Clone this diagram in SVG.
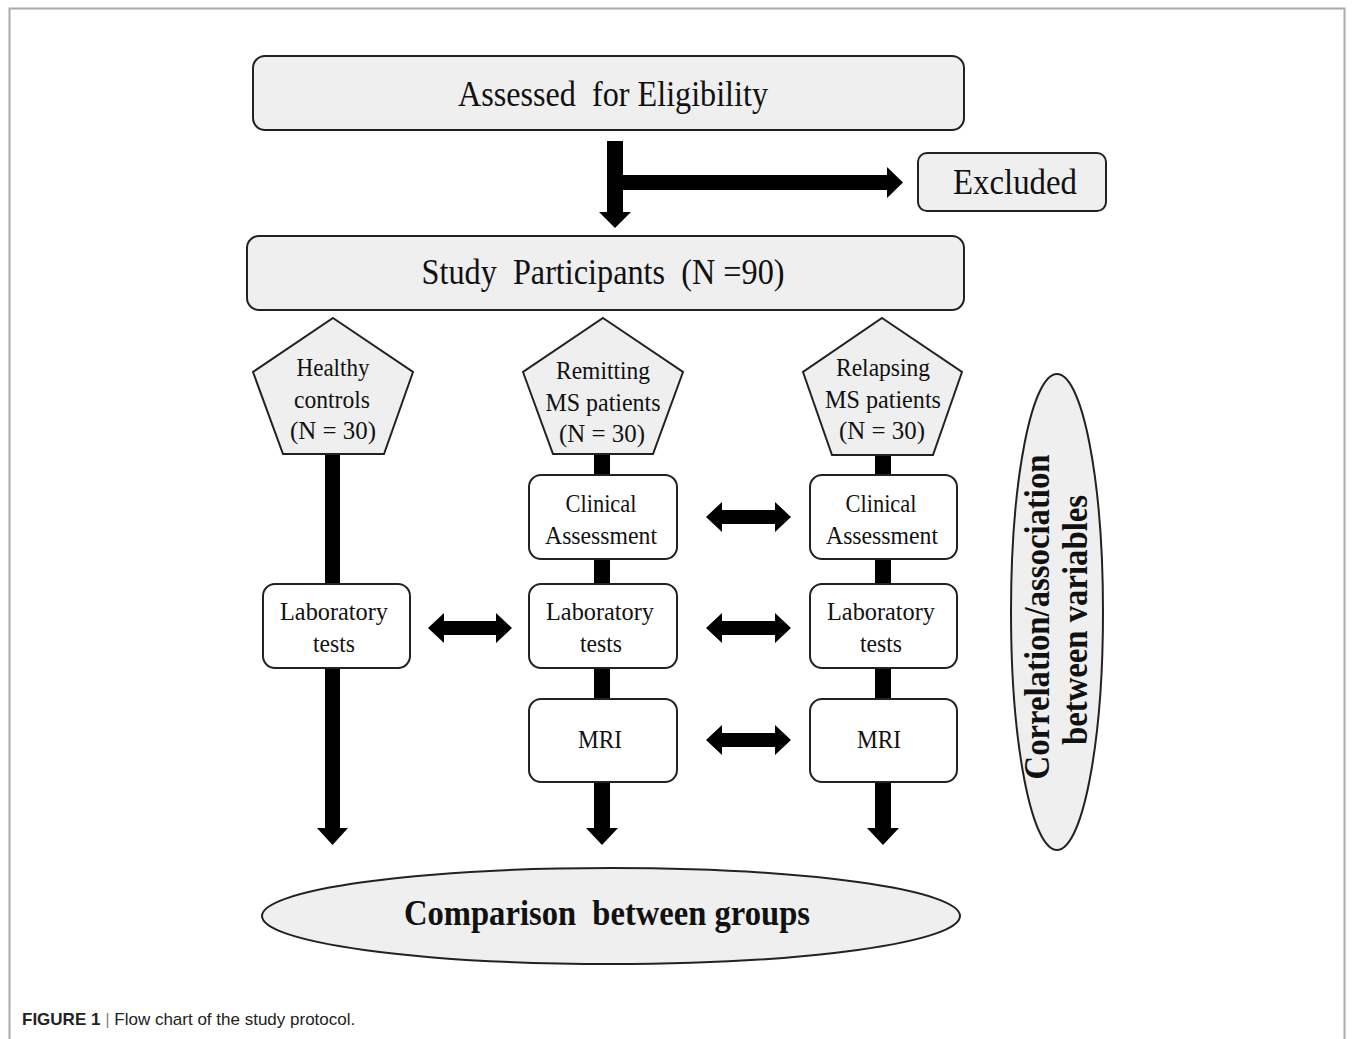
<svg xmlns="http://www.w3.org/2000/svg" width="1355" height="1039" viewBox="0 0 1355 1039">
<style>
.box{fill:#efefef;stroke:#222;stroke-width:2}
.wbox{fill:#fff;stroke:#222;stroke-width:2}
.t{font-family:"Liberation Serif","Times New Roman",serif;fill:#111;text-anchor:middle}
.big{font-size:35px}
.sm{font-size:25px}
.bold{font-weight:bold}
.arr{fill:#000}
</style>
<rect x="9.5" y="8.5" width="1335" height="1040" fill="#fff" stroke="#aaa" stroke-width="2"/>
<g id="connectors">
<polygon class="arr" points="607,141 623,141 623,175 887,175 887,167 903,182.5 887,198 887,190 623,190 623,212 631,212 615,228 599,212 607,212"/>
<rect class="arr" x="325" y="454" width="15" height="130"/>
<polygon class="arr" points="325,668 340,668 340,828 348,828 332.5,845 317,828 325,828"/>
<rect class="arr" x="594" y="454" width="16" height="21"/>
<rect class="arr" x="594" y="559" width="16" height="25"/>
<rect class="arr" x="594" y="668" width="16" height="31"/>
<polygon class="arr" points="594,782 610,782 610,828 618,828 602,845 586,828 594,828"/>
<rect class="arr" x="875" y="454" width="16" height="21"/>
<rect class="arr" x="875" y="559" width="16" height="25"/>
<rect class="arr" x="875" y="668" width="16" height="31"/>
<polygon class="arr" points="875,782 891,782 891,828 899,828 883,845 867,828 875,828"/>
<polygon class="arr" points="706,517 722,502 722,510 775,510 775,502 791,517 775,532 775,524 722,524 722,532"/>
<polygon class="arr" points="428,628 444,613 444,621 496,621 496,613 512,628 496,643 496,635 444,635 444,643"/>
<polygon class="arr" points="706,628 722,613 722,621 775,621 775,613 791,628 775,643 775,635 722,635 722,643"/>
<polygon class="arr" points="706,740 722,725 722,733 775,733 775,725 791,740 775,755 775,747 722,747 722,755"/>
</g>
<g id="assessed">
<rect class="box" x="253" y="56" width="711" height="74" rx="12"/>
<text class="t big" x="613" y="106" textLength="310" lengthAdjust="spacingAndGlyphs" xml:space="preserve">Assessed  for Eligibility</text>
</g>
<g id="excluded">
<rect class="box" x="918" y="153" width="188" height="58" rx="9"/>
<text class="t big" x="1015" y="194" textLength="124" lengthAdjust="spacingAndGlyphs">Excluded</text>
</g>
<g id="participants">
<rect class="box" x="247" y="236" width="717" height="74" rx="12"/>
<text class="t big" x="603" y="284" textLength="363" lengthAdjust="spacingAndGlyphs" xml:space="preserve">Study  Participants  (N =90)</text>
</g>
<g id="healthy">
<polygon class="box" points="333,318 413,372 384,454 283,454 253,372"/>
<text class="t sm" x="333" y="376" textLength="73" lengthAdjust="spacingAndGlyphs">Healthy</text>
<text class="t sm" x="332" y="408" textLength="76" lengthAdjust="spacingAndGlyphs">controls</text>
<text class="t sm" x="333" y="439" textLength="86" lengthAdjust="spacingAndGlyphs">(N = 30)</text>
</g>
<g id="remitting">
<polygon class="box" points="603,318 683,372 653,454 553,454 523,372"/>
<text class="t sm" x="603" y="379" textLength="94" lengthAdjust="spacingAndGlyphs">Remitting</text>
<text class="t sm" x="603" y="411" textLength="115" lengthAdjust="spacingAndGlyphs">MS patients</text>
<text class="t sm" x="602" y="442" textLength="86" lengthAdjust="spacingAndGlyphs">(N = 30)</text>
</g>
<g id="relapsing">
<polygon class="box" points="882,318 962,372 933,455 832,455 803,372"/>
<text class="t sm" x="883" y="376" textLength="94" lengthAdjust="spacingAndGlyphs">Relapsing</text>
<text class="t sm" x="883" y="408" textLength="116" lengthAdjust="spacingAndGlyphs">MS patients</text>
<text class="t sm" x="882" y="439" textLength="86" lengthAdjust="spacingAndGlyphs">(N = 30)</text>
</g>
<g id="clinical-remitting">
<rect class="wbox" x="529" y="475" width="148" height="84" rx="12"/>
<text class="t sm" x="601" y="512" textLength="71" lengthAdjust="spacingAndGlyphs">Clinical</text>
<text class="t sm" x="601" y="544" textLength="112" lengthAdjust="spacingAndGlyphs">Assessment</text>
</g>
<g id="clinical-relapsing">
<rect class="wbox" x="810" y="475" width="147" height="84" rx="12"/>
<text class="t sm" x="881" y="512" textLength="71" lengthAdjust="spacingAndGlyphs">Clinical</text>
<text class="t sm" x="882" y="544" textLength="112" lengthAdjust="spacingAndGlyphs">Assessment</text>
</g>
<g id="lab-healthy">
<rect class="wbox" x="263" y="584" width="147" height="84" rx="12"/>
<text class="t sm" x="334" y="620" textLength="108" lengthAdjust="spacingAndGlyphs">Laboratory</text>
<text class="t sm" x="334" y="652" textLength="42" lengthAdjust="spacingAndGlyphs">tests</text>
</g>
<g id="lab-remitting">
<rect class="wbox" x="529" y="584" width="148" height="84" rx="12"/>
<text class="t sm" x="600" y="620" textLength="108" lengthAdjust="spacingAndGlyphs">Laboratory</text>
<text class="t sm" x="601" y="652" textLength="42" lengthAdjust="spacingAndGlyphs">tests</text>
</g>
<g id="lab-relapsing">
<rect class="wbox" x="810" y="584" width="147" height="84" rx="12"/>
<text class="t sm" x="881" y="620" textLength="108" lengthAdjust="spacingAndGlyphs">Laboratory</text>
<text class="t sm" x="881" y="652" textLength="42" lengthAdjust="spacingAndGlyphs">tests</text>
</g>
<g id="mri-remitting">
<rect class="wbox" x="529" y="699" width="148" height="83" rx="12"/>
<text class="t sm" x="600" y="748" textLength="44" lengthAdjust="spacingAndGlyphs">MRI</text>
</g>
<g id="mri-relapsing">
<rect class="wbox" x="810" y="699" width="147" height="83" rx="12"/>
<text class="t sm" x="879" y="748" textLength="44" lengthAdjust="spacingAndGlyphs">MRI</text>
</g>
<g id="comparison">
<ellipse class="box" cx="611" cy="916" rx="349" ry="48"/>
<text class="t big bold" x="607" y="925" textLength="406" lengthAdjust="spacingAndGlyphs" xml:space="preserve">Comparison  between groups</text>
</g>
<g id="correlation">
<ellipse class="box" cx="1057" cy="612" rx="46" ry="238"/>
<text class="t big bold" transform="translate(1049,617) rotate(-90)" textLength="325" lengthAdjust="spacingAndGlyphs">Correlation/association</text>
<text class="t big bold" transform="translate(1087,620) rotate(-90)" textLength="250" lengthAdjust="spacingAndGlyphs">between variables</text>
</g>
<text x="22" y="1025" font-family="Liberation Sans,Arial,sans-serif" font-size="17" fill="#222"><tspan font-weight="bold">FIGURE 1</tspan><tspan fill="#888"> | </tspan>Flow chart of the study protocol.</text>
</svg>
